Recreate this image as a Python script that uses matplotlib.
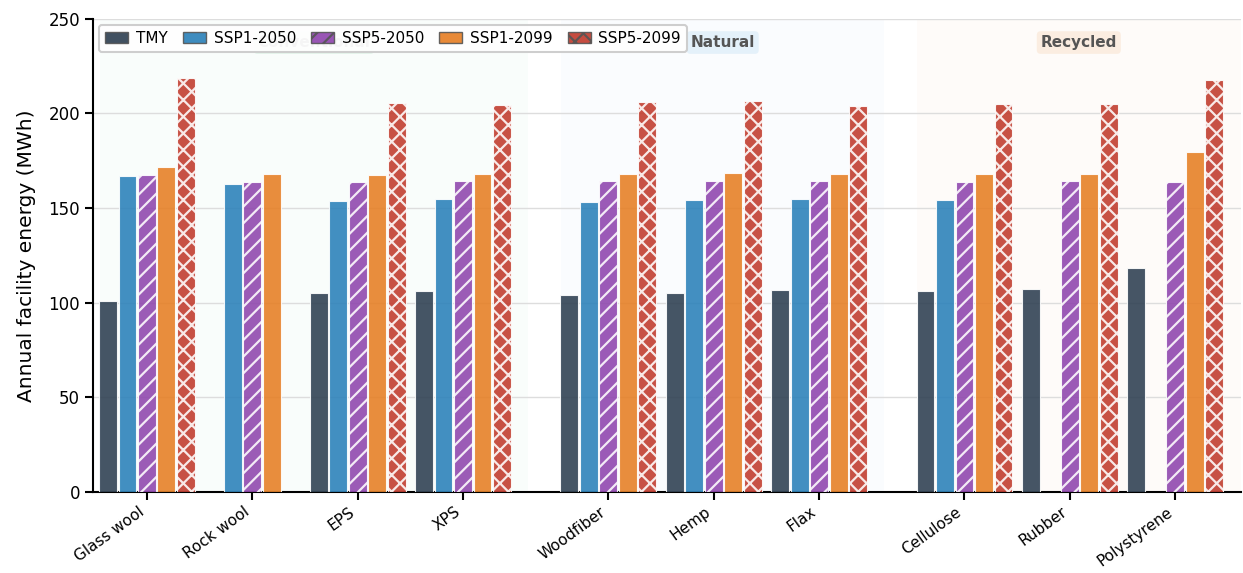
import numpy as np
import matplotlib
matplotlib.use("Agg")
import matplotlib.pyplot as plt
from matplotlib.patches import Patch
import matplotlib.transforms as mtransforms

# Insulation materials, grouped by family
materials = ["Glass wool", "Rock wool", "EPS", "XPS",
             "Woodfiber", "Hemp", "Flax",
             "Cellulose", "Rubber", "Polystyrene"]
group_names = ["Conventional", "Natural", "Recycled"]
group_sizes = [4, 3, 3]

scenarios = ["TMY", "SSP1-2050", "SSP5-2050", "SSP1-2099", "SSP5-2099"]

# Annual facility energy (MWh); nan = no simulation for that case
tmy       = [101.0, np.nan, 105.0, 106.0, 104.2, 104.8, 106.8, 106.0, 107.2, 118.3]
ssp1_2050 = [167.0, 162.8, 153.6, 154.7, 153.2, 154.3, 155.0, 154.3, np.nan, np.nan]
ssp5_2050 = [167.6, 163.9, 163.9, 164.3, 164.2, 164.4, 164.4, 163.9, 164.3, 163.7]
ssp1_2099 = [171.6, 168.0, 167.6, 168.0, 168.0, 168.4, 168.1, 168.1, 168.0, 179.7]
ssp5_2099 = [218.6, np.nan, 205.3, 204.4, 206.0, 206.7, 203.7, 205.0, 205.0, 217.9]

series = [tmy, ssp1_2050, ssp5_2050, ssp1_2099, ssp5_2099]
colors = ["#2c3e50", "#2980b9", "#8e44ad", "#e67e22", "#c0392b"]
hatches = [None, None, "//", None, "xx"]
group_colors = ["#27ae60", "#3498db", "#e67e22"]

plt.rcParams["hatch.linewidth"] = 1.6

# x positions with an extra gap between material families
gap = 0.38
x = []
pos = 0.0
for gi, n in enumerate(group_sizes):
    for k in range(n):
        x.append(pos)
        pos += 1.0
    pos += gap
x = np.array(x)

fig, ax = plt.subplots(figsize=(12.43, 5.73), dpi=100)
fig.subplots_adjust(left=0.075, right=0.998, top=0.967, bottom=0.142)

offset = 0.185
width = 0.17
for i, (vals, col, h) in enumerate(zip(series, colors, hatches)):
    vals = np.asarray(vals, dtype=float)
    m = ~np.isnan(vals)
    ax.bar(x[m] + (i - 2) * offset, vals[m], width=width, color=col,
           alpha=0.88, edgecolor="white", linewidth=0.8, hatch=h, zorder=3)

# Shaded family spans with labels
trans = mtransforms.blended_transform_factory(ax.transData, ax.transAxes)
start = 0
for name, n, gc in zip(group_names, group_sizes, group_colors):
    x0 = x[start] - 0.45
    x1 = x[start + n - 1] + 0.62
    ax.axvspan(x0, x1, color=gc, alpha=0.022, zorder=0, lw=0)
    ax.text((x0 + x1) / 2, 0.95, name, transform=trans, ha="center", va="center",
            fontsize=11, fontweight="bold", color="#555555", zorder=4,
            bbox=dict(boxstyle="round,pad=0.25", facecolor=gc, alpha=0.11,
                      edgecolor="none"))
    start += n

ax.set_xlim(x[0] - 0.51, x[-1] + 0.62)
ax.set_ylim(0, 250)
ax.set_xticks(x)
ax.set_xticklabels(materials, rotation=36, ha="right", fontsize=11)
ax.tick_params(axis="x", length=6, width=1.5, pad=3)
ax.tick_params(axis="y", labelsize=12, length=6, width=1.5)
ax.set_yticks([0, 50, 100, 150, 200, 250])
ax.set_ylabel("Annual facility energy (MWh)", fontsize=14.5, labelpad=9)

ax.grid(axis="y", color="#dddddd", linewidth=1, zorder=1)
ax.set_axisbelow(True)
for s in ["top", "right"]:
    ax.spines[s].set_visible(False)
for s in ["left", "bottom"]:
    ax.spines[s].set_linewidth(1.5)

handles = [Patch(facecolor=c, edgecolor="#555555", hatch=h, label=l, alpha=0.9)
           for c, h, l in zip(colors, hatches, scenarios)]
leg = ax.legend(handles=handles, ncol=5, loc="upper left", fontsize=11,
                frameon=True, framealpha=0.95, edgecolor="#cccccc",
                handlelength=1.5, handletextpad=0.5, columnspacing=1.0,
                borderaxespad=0.4)
leg.set_zorder(10)
leg.get_frame().set_linewidth(1.5)

fig.savefig("out.png", dpi=100)
